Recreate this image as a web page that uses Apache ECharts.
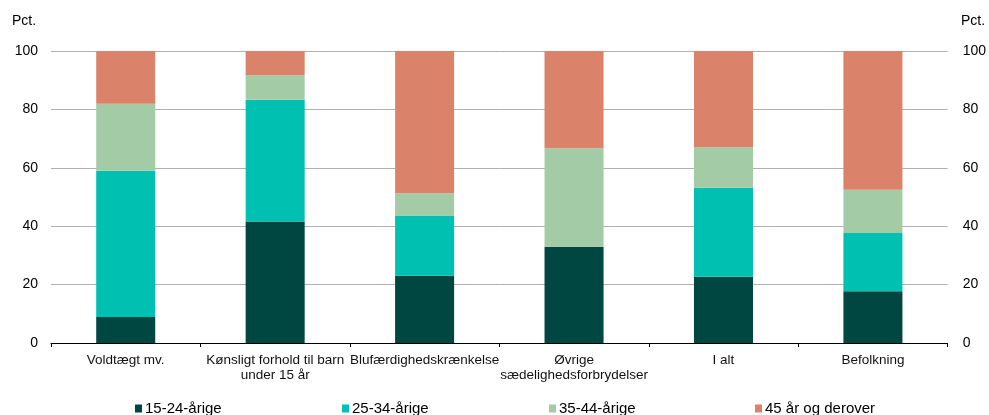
<!DOCTYPE html>
<html>
<head>
<meta charset="utf-8">
<script src="https://cdn.jsdelivr.net/npm/echarts@6/dist/echarts.min.js"></script>
<style>
html,body{margin:0;padding:0;background:#fff;}
#chart{width:989px;height:415px;}
</style>
</head>
<body>
<div id="chart"></div>
<script>
const categories = [
  "Voldtægt mv.",
  "Kønsligt forhold til barn\nunder 15 år",
  "Blufærdighedskrænkelse",
  "Øvrige\nsædelighedsforbrydelser",
  "I alt",
  "Befolkning"
];
const seriesNames = ["15-24-årige", "25-34-årige", "35-44-årige", "45 år og derover"];
const age15_24 = [8.9, 41.6, 23.0, 33.0, 22.7, 17.7];
const age25_34 = [50.1, 41.7, 20.7, 0.0, 30.5, 20.0];
const age35_44 = [22.9, 8.4, 7.6, 33.7, 13.8, 14.8];
const age45plus = [18.1, 8.3, 48.7, 33.3, 33.0, 47.5];
const yTicks = [0, 20, 40, 60, 80, 100];

const colors = ["#004741", "#00c1b1", "#a3cca6", "#db836a"];
const values = [age15_24, age25_34, age35_44, age45plus];
const font = "'Liberation Sans', Arial, sans-serif";

const chart = echarts.init(document.getElementById('chart'), null, {renderer: 'canvas'});

const legendLefts = [130, 337, 544, 750];
const legends = seriesNames.map((n, i) => ({
  data: [n],
  left: legendLefts[i],
  top: 396,
  itemWidth: 7,
  itemHeight: 8,
  icon: 'rect',
  selectedMode: false,
  textStyle: {fontFamily: font, fontSize: 15, color: '#000', padding: [0, 0, 0, -2]}
}));

chart.setOption({
  animation: false,
  color: colors,
  legend: legends,
  grid: {left: 51, right: 41, top: 51, bottom: 72, containLabel: false},
  graphic: [
    {type: 'text', left: 12, top: 14, style: {text: 'Pct.', font: "14px " + font, fill: '#000'}},
    {type: 'text', left: 961, top: 14, style: {text: 'Pct.', font: "14px " + font, fill: '#000'}}
  ],
  xAxis: {
    type: 'category',
    data: categories,
    boundaryGap: true,
    axisLine: {lineStyle: {color: '#000', width: 1}},
    axisTick: {show: true, length: 4, alignWithLabel: false, lineStyle: {color: '#000'}},
    axisLabel: {fontFamily: font, fontSize: 13.5, color: '#111', lineHeight: 15, margin: 10, interval: 0}
  },
  yAxis: [
    {
      type: 'value', min: yTicks[0], max: yTicks[yTicks.length - 1], interval: 20,
      axisLine: {show: false}, axisTick: {show: false},
      splitLine: {lineStyle: {color: '#b0b0b0', width: 1}},
      axisLabel: {fontFamily: font, fontSize: 14, color: '#000', margin: 13}
    },
    {
      type: 'value', position: 'right', min: yTicks[0], max: yTicks[yTicks.length - 1], interval: 20,
      axisLine: {show: false}, axisTick: {show: false}, splitLine: {show: false},
      axisLabel: {fontFamily: font, fontSize: 14, color: '#000', margin: 15}
    }
  ],
  series: seriesNames.map((n, i) => ({
    name: n,
    type: 'bar',
    stack: 'total',
    barWidth: '39.5%',
    data: values[i],
    itemStyle: {color: colors[i]}
  }))
});
</script>
</body>
</html>
